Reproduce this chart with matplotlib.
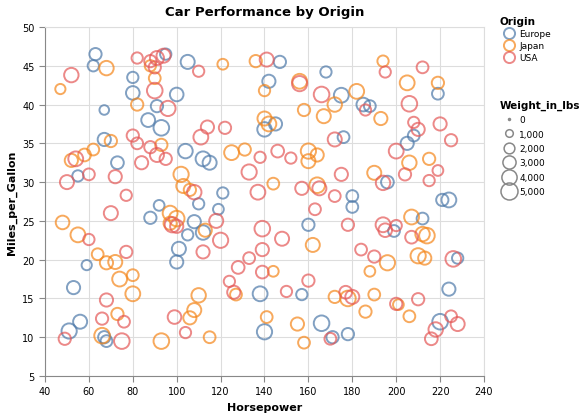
import matplotlib
matplotlib.use("Agg")
import matplotlib.pyplot as plt
from matplotlib.lines import Line2D

# (horsepower, mpg, weight_lbs)
europe = [(63,46.5,2600),(62,45,2200),(67,39.3,1600),(67,35.5,3000),(80,43.5,2200),(80,41.5,3200),
          (87,38,3300),(91,39.8,2600),(93,37,4200),(95,46.5,2200),(100,41.3,3200),(105,45.5,3400),
          (104,34,3600),(110,27.2,2200),(112,33,3800),(115,32.5,3400),(121,28.6,2200),(140,36.8,3600),
          (145,37.5,3000),(147,45.5,2600),(142,43,3000),(168,44.2,2200),(175,41.2,3800),(176,35.8,2400),
          (180,28.2,2400),(180,26.8,2400),(185,40,3200),(188,39.8,2400),(196,30,2800),(199,23.7,2400),
          (205,35,3000),(208,36,2400),(212,25.3,2400),(219,41.4,2400),(221,27.7,2600),(224,27.7,3800),
          (224,16.2,3000),(220,12,4200),(228,20.2,2200),(53,16.4,3000),(51,10.8,4000),(56,12,3400),
          (59,19.3,1800),(67,10,2600),(68,9.5,2400),(92,27,2000),(101,21.4,3400),(100,19.7,3000),
          (105,23.2,2200),(108,24.9,3000),(112,23.5,3600),(138,15.6,3800),(140,10.7,4000),
          (157,15.5,2200),(166,11.8,4200),(171,10,2600),(178,10.4,2600),(88,25.4,2600),(119,26.5,2000),
          (73,32.5,2800),(55,30.8,2200),(160,24.5,2600)]
japan = [(47,42,1800),(48,24.8,3200),(52,32.8,3000),(55,23.2,3800),(58,33.5,2800),(64,20.7,2400),
         (66,10.2,4200),(68,44.7,3600),(68,19.6,3000),(72,19.7,3400),(70,35.3,2600),(73,13,2600),
         (74,17.5,3800),(80,15.6,3800),(80,18,2400),(82,40,2600),(88,45,2200),(90,43.4,2400),
         (93,9.5,4200),(97,26,3800),(97,24.7,3000),(100,25.3,4200),(102,31,4000),(103,29.5,3400),
         (106,29,2600),(106,12.5,3000),(108,13.5,3400),(110,15.4,3600),(113,23.8,3000),(115,10,2400),
         (125,33.8,3800),(127,15.5,2400),(136,45.6,2600),(140,41.8,2200),(140,38.2,3400),(142,37.5,3800),
         (141,12.6,2400),(144,29.8,2400),(144,18.5,2000),(155,11.7,3000),(156,43,3800),(158,39.3,2600),
         (158,9.3,2400),(160,34,4000),(160,32.7,3400),(162,21.9,3400),(164,29.6,4200),(164,33.5,3000),
         (167,38.5,3400),(172,40,3600),(172,15.2,2600),(178,15,4200),(182,41.7,3800),(186,13.3,2600),
         (190,15.5,2400),(190,31.2,3400),(193,38.2,3000),(194,45.6,2200),(196,19.6,4000),(205,42.8,3800),
         (206,32.5,3600),(206,12.7,2400),(207,25.5,3800),(210,20.5,4000),(212,23.3,3600),(215,33,2600),
         (219,42.8,2600),(213,20.2,3000),(214,23.1,4200),(188,18.5,2000),(93,34.8,2600),(62,34.2,2400),
         (121,45.2,2000),(131,34.2,2600),(201,14.2,2000)]
usa = [(49,9.8,2600),(50,30,3400),(52,43.8,3600),(54,33,3800),(60,22.6,2200),(60,31,2400),(66,12.4,2600),
       (68,14.8,3000),(70,26,3400),(72,30.7,3000),(75,9.5,4200),(76,12,2400),(77,21,2600),(77,28.3,2200),
       (80,36,2600),(82,46,2200),(82,35,2400),(84,32.5,3000),(88,34.5,2600),(88,45.6,2600),(90,44.8,2600),
       (91,33.5,3400),(91,46,3400),(94,46.3,3400),(95,33,2600),(96,39.5,4000),(98,24.5,4000),(99,12.6,3200),
       (100,24.3,3000),(104,10.6,2200),(108,28.7,3600),(110,44.3,2200),(111,35.8,3800),(114,37.1,3000),
       (112,21,3000),(118,25,3400),(120,22.5,4000),(122,37,2600),(124,17.2,2200),(126,15.8,3000),
       (128,19,2800),(133,31.3,4000),(133,20.2,2400),(137,28.7,3800),(138,33.2,2200),(139,21.3,3000),
       (139,18.4,2800),(139,24,4200),(141,45.8,3400),(146,34,2800),(148,22.7,3400),(150,15.9,2200),
       (152,33.1,2200),(156,42.7,4000),(157,29.2,3000),(160,17.3,2600),(163,26.5,2400),(165,29.2,3400),
       (166,41.3,4200),(172,35.5,3400),(172,28.2,2400),(175,31,3000),(177,15.8,2800),(178,24.5,2600),
       (180,15.2,3400),(184,21.3,2400),(186,39.3,2200),(190,20.4,2600),(194,24.5,3800),(195,23.8,3200),
       (195,44.2,2200),(194,29.9,3600),(200,14.3,2600),(200,34,3800),(204,31,2600),(206,40.1,4200),
       (207,22.9,2800),(208,37.7,2200),(210,14.9,2600),(210,36.8,3000),(212,44.8,2400),(216,9.8,2800),
       (215,30.2,2200),(218,11,3600),(220,37.5,3000),(225,35.4,2600),(225,12.7,2400),(226,20.1,4200),
       (228,11.7,3400),(219,31.5,2000),(200,24.4,2200),(170,9.8,2400),(90,41.8,4200)]

origins = ["Europe", "Japan", "USA"]
colors = {"Europe": "#4c78a8", "Japan": "#f58518", "USA": "#e45756"}
data = {"Europe": europe, "Japan": japan, "USA": usa}
legend_weights = [0, 1000, 2000, 3000, 4000, 5000]
legend_labels = ["0", "1,000", "2,000", "3,000", "4,000", "5,000"]

def size(w):
    return max(w / 5000 * 150, 2)

fig = plt.figure(figsize=(5.87, 4.14), dpi=100)
ax = fig.add_axes([45/587, 37/414, 439/587, 349/414])
for o in origins:
    hp = [p[0] for p in data[o]]
    mpg = [p[1] for p in data[o]]
    s = [size(p[2]) for p in data[o]]
    ax.scatter(hp, mpg, s=s, facecolors="none", edgecolors=colors[o], linewidths=1.4, alpha=0.7, zorder=3)

ax.set_xlim(40, 240)
ax.set_ylim(5, 50)
ax.set_xticks(range(40, 241, 20))
ax.set_yticks(range(5, 51, 5))
ax.grid(True, color="#dddddd", linewidth=0.8, zorder=0)
for sp in ax.spines.values():
    sp.set_color("#888888")
    sp.set_linewidth(0.8)
ax.spines["top"].set_color("#dddddd")
ax.spines["right"].set_color("#dddddd")
ax.tick_params(labelsize=7, color="#888888", length=4)
ax.set_xlabel("Horsepower", fontsize=8, fontweight="bold")
ax.set_ylabel("Miles_per_Gallon", fontsize=8, fontweight="bold")
ax.set_title("Car Performance by Origin", fontsize=9.5, fontweight="bold", pad=9)

h1 = [Line2D([], [], marker="o", linestyle="none", markerfacecolor="none",
             markeredgecolor=colors[o], markeredgewidth=1.4, markersize=8, alpha=0.7) for o in origins]
leg1 = fig.legend(h1, origins, loc="upper left", bbox_to_anchor=(495/587, 402/414), frameon=False,
                  title="Origin", fontsize=6.5, title_fontproperties={"weight": "bold", "size": 7.5},
                  handletextpad=0.2, labelspacing=0.35, borderpad=0)
leg1._legend_box.align = "left"
h2 = [Line2D([], [], marker="o", linestyle="none", markerfacecolor="none", markeredgecolor="#888888",
             markeredgewidth=1.1, markersize=size(w) ** 0.5) for w in legend_weights]
leg2 = fig.legend(h2, legend_labels, loc="upper left", bbox_to_anchor=(495/587, 318/414), frameon=False,
                  title="Weight_in_lbs", fontsize=6.5, title_fontproperties={"weight": "bold", "size": 7.5},
                  handletextpad=0.2, labelspacing=0.6, borderpad=0)
leg2._legend_box.align = "left"

fig.savefig("out.png", dpi=100)
